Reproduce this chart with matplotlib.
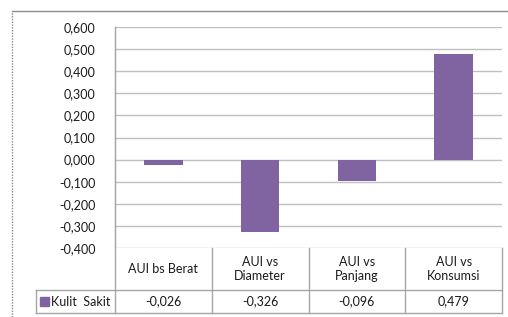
import numpy as np
import matplotlib.pyplot as plt
from matplotlib.transforms import blended_transform_factory
from matplotlib.lines import Line2D
from matplotlib.patches import Rectangle

plt.rcParams['font.family'] = ['Lato', 'DejaVu Sans']

categories = ['AUI bs Berat', 'AUI vs\nDiameter', 'AUI vs\nPanjang', 'AUI vs\nKonsumsi']
values = [-0.026, -0.326, -0.096, 0.479]
value_labels = ['-0,026', '-0,326', '-0,096', '0,479']
series_name = 'Kulit  Sakit'
yticks = [-0.4, -0.3, -0.2, -0.1, 0.0, 0.1, 0.2, 0.3, 0.4, 0.5, 0.6]

W, H = 508, 317
purple = '#8064A2'
grid_c = '#c0c0c0'
line_c = '#a6a6a6'
txt_c = '#1a1a1a'

fig = plt.figure(figsize=(W / 100, H / 100), dpi=100)
fig.patch.set_facecolor('white')

# plot area in pixels
left, right, top, bottom = 115, 502, 27, 248
ax = fig.add_axes([left / W, 1 - bottom / H, (right - left) / W, (bottom - top) / H])

x = np.arange(len(categories))
ax.bar(x, values, width=0.4, color=purple, zorder=3)
ax.set_xlim(-0.5, len(categories) - 0.5)
ax.set_ylim(-0.4, 0.6)
ax.set_yticks(yticks)
ax.set_yticklabels(['{:.3f}'.format(v).replace('.', ',') for v in yticks],
                   fontsize=9, color=txt_c)
ax.tick_params(axis='y', length=0, pad=14)
ax.set_xticks([])
for v in yticks:
    ax.axhline(v, color=grid_c, lw=1, zorder=1)
for s in ['top', 'right', 'bottom']:
    ax.spines[s].set_visible(False)
ax.spines['left'].set_color(line_c)

# data table below the plot
tr = blended_transform_factory(ax.transData, ax.transAxes)
ph = bottom - top
row1 = -(290 - bottom) / ph
row2 = -(313 - bottom) / ph
leg_x = -0.5 - (left - 36) / (right - left) * len(categories)

def hline(y, x0, x1):
    ax.add_line(Line2D([x0, x1], [y, y], transform=tr, color=line_c, lw=1, clip_on=False))

def vline(xx, y0, y1):
    ax.add_line(Line2D([xx, xx], [y0, y1], transform=tr, color=line_c, lw=1, clip_on=False))

hline(row1, leg_x, 3.5)
hline(row2, leg_x, 3.5)
vline(leg_x, row1, row2)
vline(-0.5, row2, 1)
for b in np.arange(0.5, 4.0, 1.0):
    vline(b, row2, 0)

for xi, cat, lab in zip(x, categories, value_labels):
    ax.text(xi, row1 / 2, cat, transform=tr, ha='center', va='center',
            fontsize=9, color=txt_c, linespacing=1.3)
    ax.text(xi, (row1 + row2) / 2, lab, transform=tr, ha='center', va='center',
            fontsize=9, color=txt_c)

ax.add_patch(Rectangle((leg_x + 0.04, (row1 + row2) / 2 - 0.02), 0.09, 0.04,
                       transform=tr, color=purple, clip_on=False))
ax.text(leg_x + 0.15, (row1 + row2) / 2, series_name, transform=tr, ha='left', va='center',
        fontsize=9, color=txt_c)

# outer chart border
fig.add_artist(Line2D([12 / W, 1], [1 - 10.5 / H] * 2, transform=fig.transFigure,
                      color='#8c8c8c', lw=1))
fig.add_artist(Line2D([12 / W] * 2, [0, 1 - 10.5 / H], transform=fig.transFigure,
                      color='#8c8c8c', lw=1, ls=(0, (1, 1))))

fig.savefig('out.png', dpi=100)
